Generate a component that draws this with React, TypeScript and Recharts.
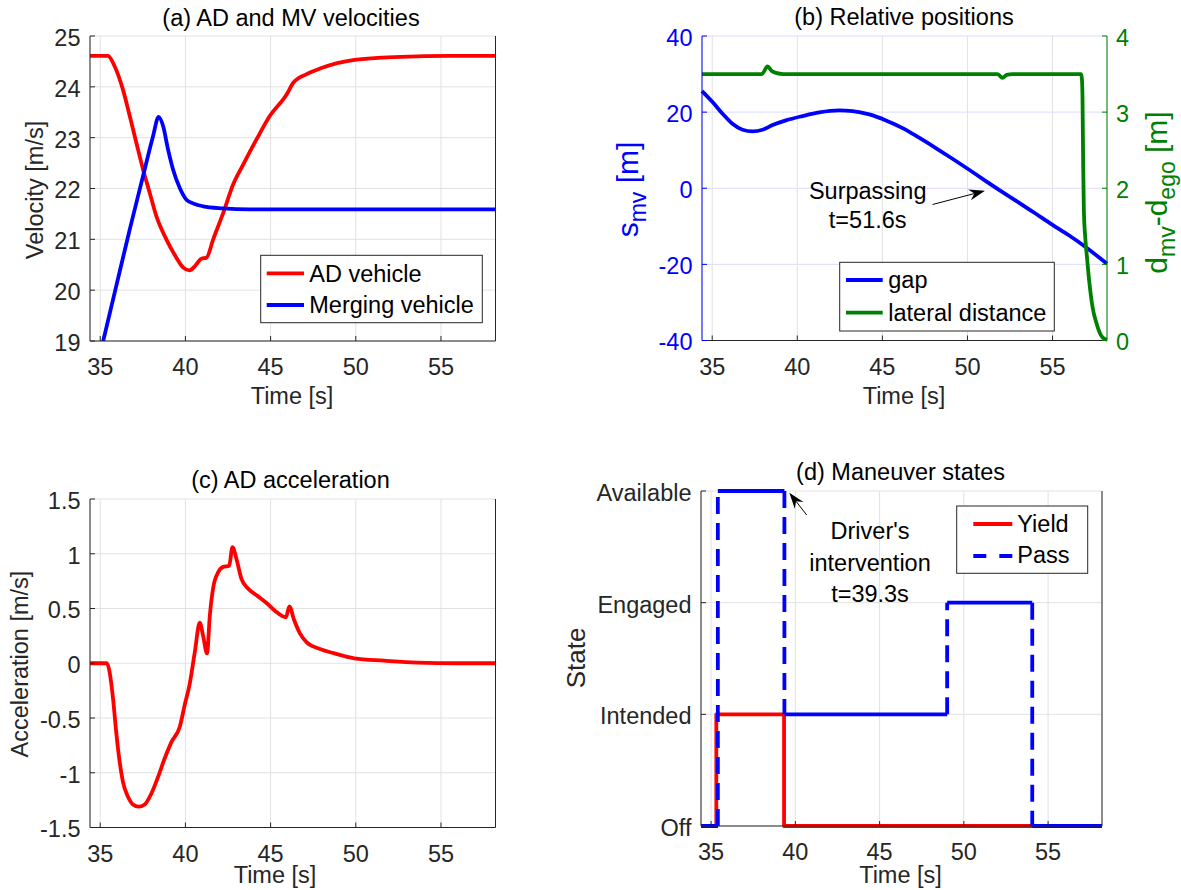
import React from "react";
import { CartesianGrid, Line, LineChart, XAxis, YAxis } from "recharts";

const FONT = '"Liberation Sans", Arial, Helvetica, sans-serif';
const INK = "#262626";
const GRID = "#e2e2e2";
const GRID_BLUE = "#dcdcff";
const RED = "#ff0000";
const BLUE = "#0000ff";
const GREEN = "#008000";
const FS = 23.5;
const LW = 3.8;

// shared time axis
const T_DOMAIN: [number, number] = [34.4, 58.2];
const T_TICKS = [35, 40, 45, 50, 55];

// (a) AD and MV velocities [m/s]
const adVelT = [34.4, 35.45, 35.84, 36.33, 36.73, 37.12, 37.51, 37.9, 38.29, 38.88, 39.47, 39.86, 40.25, 40.55, 40.94, 41.24, 41.63, 42.22, 42.8, 43.39, 44.18, 44.96, 45.94, 46.33, 47.12, 47.9, 49.92, 52.65, 55.5, 58.2];
const adVel = [24.61, 24.61, 24.41, 23.95, 23.43, 22.9, 22.38, 21.92, 21.46, 21.0, 20.64, 20.45, 20.39, 20.47, 20.62, 20.64, 21.0, 21.52, 22.08, 22.47, 22.97, 23.43, 23.85, 24.08, 24.25, 24.36, 24.53, 24.59, 24.61, 24.61];
const mvVelT = [34.4, 35.16, 35.94, 36.73, 37.51, 38.1, 38.43, 38.69, 38.98, 39.27, 39.67, 40.06, 40.5, 41.04, 42.2, 43.78, 48.0, 58.2];
const mvVel = [17.9, 18.98, 20.08, 21.19, 22.24, 23.03, 23.41, 23.23, 22.77, 22.38, 22.01, 21.78, 21.7, 21.65, 21.61, 21.59, 21.59, 21.59];
const VEL_TICKS = [19, 20, 21, 22, 23, 24, 25];

// (b) relative positions
const gapT = [34.4, 35.02, 35.61, 36.19, 36.78, 37.37, 37.96, 38.55, 39.33, 40.31, 41.29, 42.46, 43.25, 44.23, 45.21, 46.19, 47.16, 48.14, 49.12, 50.1, 51.08, 52.06, 53.04, 54.02, 55.0, 55.98, 56.96, 58.2];
const gap = [25.54, 22.65, 19.58, 16.95, 15.37, 14.93, 15.37, 16.6, 17.83, 18.97, 19.93, 20.46, 20.28, 19.4, 17.83, 15.81, 13.27, 10.55, 7.75, 4.86, 1.88, -1.02, -3.82, -6.71, -9.61, -12.41, -15.48, -19.86];
const latT = [34.4, 37.92, 38.25, 38.5, 38.74, 39.2, 51.77, 52.06, 52.3, 52.65, 56.67, 56.72, 56.76, 56.8, 56.84, 56.92, 57.02, 57.15, 57.35, 57.59, 57.84, 58.05, 58.2];
const lat = [3.5, 3.5, 3.6, 3.54, 3.515, 3.5, 3.5, 3.45, 3.49, 3.5, 3.5, 3.45, 3.2, 2.32, 1.71, 1.36, 1.1, 0.79, 0.44, 0.22, 0.07, 0.02, 0.01];
const GAP_TICKS = [-40, -20, 0, 20, 40];
const LAT_TICKS = [0, 1, 2, 3, 4];

// (c) AD acceleration
const accT = [34.4, 35.39, 35.55, 35.75, 35.94, 36.14, 36.33, 36.63, 36.92, 37.25, 37.61, 38.0, 38.39, 38.78, 39.18, 39.67, 39.96, 40.25, 40.55, 40.84, 41.04, 41.27, 41.43, 41.63, 41.92, 42.22, 42.57, 42.76, 43.0, 43.29, 43.69, 44.18, 44.76, 45.25, 45.9, 46.1, 46.37, 46.73, 47.12, 47.9, 48.74, 49.91, 51.67, 53.6, 56.0, 58.2];
const acc = [0, 0, -0.08, -0.32, -0.63, -0.9, -1.08, -1.22, -1.29, -1.31, -1.29, -1.19, -1.04, -0.87, -0.72, -0.58, -0.38, -0.19, 0.1, 0.37, 0.25, 0.09, 0.43, 0.69, 0.83, 0.88, 0.89, 1.06, 0.95, 0.77, 0.68, 0.62, 0.55, 0.48, 0.42, 0.52, 0.4, 0.27, 0.19, 0.13, 0.09, 0.045, 0.024, 0.006, 0, 0];
const ACC_TICKS = [-1.5, -1, -0.5, 0, 0.5, 1, 1.5];

// (d) maneuver states
const STATE_NAMES = ["Off", "Intended", "Engaged", "Available"];
const STATE_TICKS = [0, 1, 2, 3];
const yieldSwitchT = [35.31, 39.33];
const yieldLevels = [0, 1, 0];
const passSwitchT = [35.4, 39.35, 49.01, 54.06];
const passLevels = [0, 3, 1, 2, 0];

type Pt = { t: number; v: number | null };
type Rect = { x: number; y: number; w: number; h: number };

const zip = (ts: number[], vs: number[]): Pt[] => ts.map((t, i) => ({ t, v: vs[i] }));

function stepPath(sw: number[], lv: number[]): Pt[] {
  const edges = [T_DOMAIN[0], ...sw, T_DOMAIN[1]];
  return lv.flatMap((v, i) => [{ t: edges[i], v }, { t: edges[i + 1], v }]);
}
// horizontal runs only (MATLAB draws these solid), broken by nulls
function stepFlats(sw: number[], lv: number[]): Pt[] {
  const edges = [T_DOMAIN[0], ...sw, T_DOMAIN[1]];
  return lv.flatMap((v, i) => [{ t: edges[i], v }, { t: edges[i + 1], v }, { t: edges[i + 1], v: null }]);
}
// the jumps between levels (dashed)
function stepJumps(sw: number[], lv: number[]): Pt[] {
  return sw.flatMap((t, i) => [{ t, v: lv[i] }, { t, v: lv[i + 1] }, { t, v: null }]);
}

const PAD = 130;
const XH = 30;
const YW = 120;

const A: Rect = { x: 89.5, y: 36, w: 405.5, h: 305 };
const B: Rect = { x: 702, y: 35.7, w: 405, h: 304.5 };
const C: Rect = { x: 89.5, y: 499, w: 405.5, h: 328.5 };
const D: Rect = { x: 700.7, y: 490.7, w: 401, h: 335 };

const bottomTick = (p: any) => (
  <text x={p.x} y={p.y} dy="0.72em" textAnchor="middle" fill={INK} fontSize={FS} fontFamily={FONT}>
    {p.payload.value}
  </text>
);
const sideTick =
  (anchor: "start" | "end", fill: string, fmt: (v: number) => string = String) =>
  (p: any) => (
    <text x={p.x} y={p.y} dy="0.42em" textAnchor={anchor} fill={fill} fontSize={FS} fontFamily={FONT}>
      {fmt(p.payload.value)}
    </text>
  );

function Chart({ r, children }: { r: Rect; children: React.ReactNode }) {
  return (
    <div style={{ position: "absolute", left: r.x - PAD, top: r.y - PAD }}>
      <LineChart
        width={r.w + 2 * PAD}
        height={r.h + 2 * PAD}
        margin={{ top: PAD, right: PAD - YW, bottom: PAD - XH, left: PAD - YW }}
      >
        {children}
      </LineChart>
    </div>
  );
}

function timeAxes() {
  return [
    <XAxis
      key="xb"
      xAxisId="b"
      type="number"
      dataKey="t"
      domain={T_DOMAIN}
      ticks={T_TICKS}
      interval={0}
      height={XH}
      stroke={INK}
      tickSize={-5}
      tickMargin={22.3}
      tick={bottomTick}
    />,
    <XAxis
      key="xt"
      xAxisId="t"
      orientation="top"
      type="number"
      dataKey="t"
      domain={T_DOMAIN}
      ticks={T_TICKS}
      interval={0}
      height={0}
      stroke={INK}
      tickSize={-5}
      tick={false}
    />,
  ];
}

function Arrow({ from, to }: { from: [number, number]; to: [number, number] }) {
  const dx = to[0] - from[0];
  const dy = to[1] - from[1];
  const len = Math.hypot(dx, dy);
  const ux = dx / len;
  const uy = dy / len;
  const L = 16;
  const W = 5.5;
  const N = 11;
  const bx = to[0] - ux * L;
  const by = to[1] - uy * L;
  const pts = [
    [to[0], to[1]],
    [bx - uy * W, by + ux * W],
    [to[0] - ux * N, to[1] - uy * N],
    [bx + uy * W, by - ux * W],
  ]
    .map((q) => q.join(","))
    .join(" ");
  return (
    <g>
      <line x1={from[0]} y1={from[1]} x2={to[0] - ux * N} y2={to[1] - uy * N} stroke="#000" strokeWidth={1} />
      <polygon points={pts} fill="#000" />
    </g>
  );
}

function Overlay() {
  return (
    <svg
      width={1181}
      height={890}
      style={{ position: "absolute", left: 0, top: 0, pointerEvents: "none" }}
      fontFamily={FONT}
      fontSize={FS}
    >
      {/* titles */}
      <text x={291} y={26} textAnchor="middle" fill="#000">(a) AD and MV velocities</text>
      <text x={904} y={25} textAnchor="middle" fill="#000">(b) Relative positions</text>
      <text x={290.5} y={488.3} textAnchor="middle" fill="#000">(c) AD acceleration</text>
      <text x={900.6} y={480} textAnchor="middle" fill="#000">(d) Maneuver states</text>

      {/* x labels */}
      <text x={292} y={404} textAnchor="middle" fill={INK}>Time [s]</text>
      <text x={904} y={404} textAnchor="middle" fill={INK}>Time [s]</text>
      <text x={275} y={883} textAnchor="middle" fill={INK}>Time [s]</text>
      <text x={900.5} y={883} textAnchor="middle" fill={INK}>Time [s]</text>

      {/* y labels */}
      <text transform="translate(43.3,190) rotate(-90)" textAnchor="middle" fill={INK}>Velocity [m/s]</text>
      <text transform="translate(28.3,664) rotate(-90)" textAnchor="middle" fill={INK}>Acceleration [m/s]</text>
      <text transform="translate(585,658) rotate(-90)" textAnchor="middle" fill={INK} fontSize={26}>State</text>
      <text transform="translate(638,189.5) rotate(-90)" textAnchor="middle" fill={BLUE} fontSize={30}>
        s<tspan fontSize={23} dy={8}>mv</tspan>
        <tspan dy={-8}> [m]</tspan>
      </text>
      <text transform="translate(1166.7,192.5) rotate(-90)" textAnchor="middle" fill={GREEN} fontSize={30}>
        d<tspan fontSize={23} dy={8}>mv</tspan>
        <tspan dy={-8}>-d</tspan>
        <tspan fontSize={23} dy={8}>ego</tspan>
        <tspan dy={-8}> [m]</tspan>
      </text>

      {/* legend (a) */}
      <rect x={260.7} y={255.3} width={221.6} height={67.4} fill="#fff" stroke={INK} />
      <line x1={266.7} x2={304} y1={273.3} y2={273.3} stroke={RED} strokeWidth={LW} />
      <text x={309.3} y={281.7} fill="#000">AD vehicle</text>
      <line x1={266.7} x2={304} y1={305} y2={305} stroke={BLUE} strokeWidth={LW} />
      <text x={309.3} y={313.2} fill="#000">Merging vehicle</text>

      {/* legend (b) */}
      <rect x={839.7} y={262.3} width={214.6} height={68.7} fill="#fff" stroke={INK} />
      <line x1={846} x2={882.7} y1={280} y2={280} stroke={BLUE} strokeWidth={LW} />
      <text x={888.3} y={288} fill="#000">gap</text>
      <line x1={846} x2={882.7} y1={312.7} y2={312.7} stroke={GREEN} strokeWidth={LW} />
      <text x={888.3} y={321} fill="#000">lateral distance</text>

      {/* legend (d) */}
      <rect x={956.7} y={506} width={131} height={67.3} fill="#fff" stroke={INK} />
      <line x1={973.3} x2={1012.3} y1={524} y2={524} stroke={RED} strokeWidth={LW} />
      <text x={1017.3} y={532.3} fill="#000">Yield</text>
      <line x1={973.3} x2={1012.3} y1={556} y2={556} stroke={BLUE} strokeWidth={LW} strokeDasharray="13 13" />
      <text x={1017.3} y={563.3} fill="#000">Pass</text>

      {/* annotations */}
      <text x={867.7} y={199.3} textAnchor="middle" fill="#000">Surpassing</text>
      <text x={867.7} y={228.3} textAnchor="middle" fill="#000">t=51.6s</text>
      <Arrow from={[932.5, 204.5]} to={[985, 190.8]} />

      <text x={870} y={539.3} textAnchor="middle" fill="#000">Driver's</text>
      <text x={870} y={571} textAnchor="middle" fill="#000">intervention</text>
      <text x={870} y={601.7} textAnchor="middle" fill="#000">t=39.3s</text>
      <Arrow from={[806.7, 515]} to={[789.3, 492.7]} />
    </svg>
  );
}

export default function App() {
  const lineProps = {
    dataKey: "v",
    xAxisId: "b",
    dot: false,
    activeDot: false,
    isAnimationActive: false,
    strokeWidth: LW,
    strokeLinejoin: "round" as const,
  };
  return (
    <div
      style={{
        position: "absolute",
        left: 0,
        top: 0,
        width: 1181,
        height: 890,
        background: "#fff",
        overflow: "hidden",
        fontFamily: FONT,
      }}
    >
      {/* (a) */}
      <Chart r={A}>
        <CartesianGrid xAxisId="b" yAxisId="l" stroke={GRID} />
        {timeAxes()}
        <YAxis yAxisId="l" type="number" domain={[19, 25]} ticks={VEL_TICKS} interval={0} width={YW} stroke={INK}
          tickSize={-5} tickMargin={14.5} tick={sideTick("end", INK)} allowDataOverflow />
        <YAxis yAxisId="r" orientation="right" type="number" domain={[19, 25]} ticks={VEL_TICKS} interval={0}
          width={YW} stroke={INK} tickSize={-5} tick={false} allowDataOverflow />
        <Line {...lineProps} yAxisId="l" data={zip(adVelT, adVel)} type="monotone" stroke={RED} />
        <Line {...lineProps} yAxisId="l" data={zip(mvVelT, mvVel)} type="monotone" stroke={BLUE} />
      </Chart>

      {/* (b) */}
      <Chart r={B}>
        <CartesianGrid xAxisId="b" yAxisId="l" stroke={GRID_BLUE} vertical={false} />
        <CartesianGrid xAxisId="b" yAxisId="l" stroke={GRID} horizontal={false} />
        {timeAxes()}
        <YAxis yAxisId="l" type="number" domain={[-40, 40]} ticks={GAP_TICKS} interval={0} width={YW} stroke={BLUE}
          tickSize={-5} tickMargin={14.5} tick={sideTick("end", BLUE)} />
        <YAxis yAxisId="r" orientation="right" type="number" domain={[0, 4]} ticks={LAT_TICKS} interval={0}
          width={YW} stroke={GREEN} tickSize={-5} tickMargin={14} tick={sideTick("start", GREEN)} />
        <Line {...lineProps} yAxisId="l" data={zip(gapT, gap)} type="monotone" stroke={BLUE} />
        <Line {...lineProps} yAxisId="r" data={zip(latT, lat)} type="monotone" stroke={GREEN} />
      </Chart>

      {/* (c) */}
      <Chart r={C}>
        <CartesianGrid xAxisId="b" yAxisId="l" stroke={GRID} />
        {timeAxes()}
        <YAxis yAxisId="l" type="number" domain={[-1.5, 1.5]} ticks={ACC_TICKS} interval={0} width={YW} stroke={INK}
          tickSize={-5} tickMargin={14.5} tick={sideTick("end", INK)} />
        <YAxis yAxisId="r" orientation="right" type="number" domain={[-1.5, 1.5]} ticks={ACC_TICKS} interval={0}
          width={YW} stroke={INK} tickSize={-5} tick={false} />
        <Line {...lineProps} yAxisId="l" data={zip(accT, acc)} type="monotone" stroke={RED} />
      </Chart>

      {/* (d) */}
      <Chart r={D}>
        <CartesianGrid xAxisId="b" yAxisId="l" stroke={GRID} />
        {timeAxes()}
        <YAxis yAxisId="l" type="number" domain={[0, 3]} ticks={STATE_TICKS} interval={0} width={YW} stroke={INK}
          tickSize={-5} tickMargin={14.5} tick={sideTick("end", INK, (v) => STATE_NAMES[v])} />
        <YAxis yAxisId="r" orientation="right" type="number" domain={[0, 3]} ticks={STATE_TICKS} interval={0}
          width={YW} stroke={INK} tickSize={-5} tick={false} />
        <Line {...lineProps} yAxisId="l" data={stepPath(yieldSwitchT, yieldLevels)} type="linear" stroke={RED} />
        <Line {...lineProps} yAxisId="l" data={stepFlats(passSwitchT, passLevels)} type="linear" stroke={BLUE} />
        <Line {...lineProps} yAxisId="l" data={stepJumps(passSwitchT, passLevels)} type="linear" stroke={BLUE}
          strokeDasharray="17 9" />
      </Chart>

      <Overlay />
    </div>
  );
}
